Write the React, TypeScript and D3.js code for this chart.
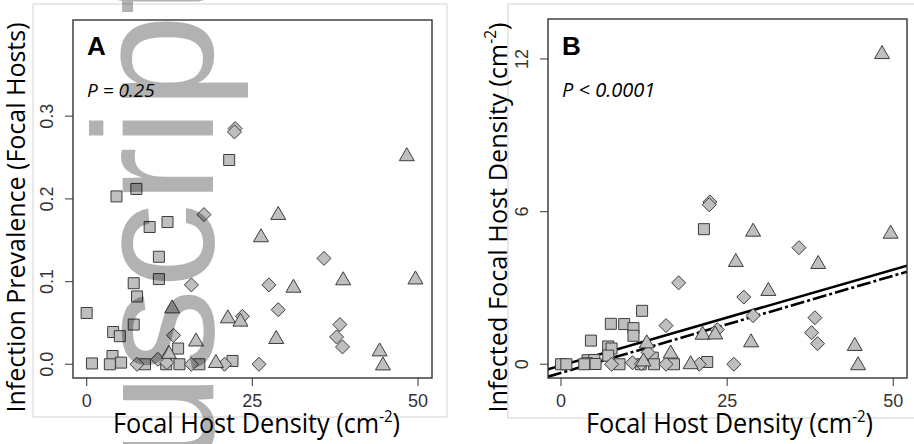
import * as d3 from "d3";
import { useEffect, useRef } from "react";

// focal host density (cm^-2) per plot, split by marker shape
const squareDensity = [0, 0.8, 4.5, 7.5, 4.0, 5.0, 3.9, 3.5, 5.2, 7.1, 7.6, 7.1, 9.5, 12.2, 10.9, 10.9, 13.8, 14.0, 8.8, 12.0, 17.0, 21.5, 22.0];
const squarePrevalence = [0.062, 0.001, 0.203, 0.212, 0.039, 0.034, 0.01, 0, 0.002, 0.098, 0.082, 0.048, 0.166, 0.172, 0.13, 0.103, 0.019, 0, 0, 0, 0, 0.247, 0.004];
const squareInfected = [0, 0, 0.93, 1.59, 0.16, 0.17, 0.04, 0, 0.01, 0.7, 0.62, 0.34, 1.58, 2.1, 1.42, 1.12, 0.26, 0, 0, 0, 0, 5.31, 0.09];

const diamondDensity = [22.4, 22.3, 17.7, 15.8, 27.5, 28.9, 23.5, 35.8, 38.2, 37.7, 38.6, 13.1, 10.75, 12.1, 7.6, 15.8, 20.8, 26.0];
const diamondPrevalence = [0.285, 0.281, 0.181, 0.096, 0.096, 0.066, 0.058, 0.128, 0.048, 0.033, 0.021, 0.035, 0.006, 0.002, 0, 0, 0, 0];
const diamondInfected = [6.38, 6.27, 3.2, 1.52, 2.64, 1.91, 1.36, 4.58, 1.83, 1.24, 0.81, 0.46, 0.06, 0.02, 0, 0, 0, 0];

const triangleDensity = [12.9, 16.5, 12.4, 19.5, 21.3, 23.2, 28.9, 26.3, 31.2, 38.7, 28.6, 48.3, 49.6, 44.2, 44.7];
const trianglePrevalence = [0.07, 0.03, 0.015, 0.004, 0.058, 0.054, 0.183, 0.156, 0.095, 0.104, 0.033, 0.254, 0.105, 0.018, 0.001];
const triangleInfected = [0.9, 0.5, 0.19, 0.08, 1.24, 1.25, 5.29, 4.1, 2.96, 4.02, 0.94, 12.27, 5.21, 0.8, 0.04];

const xTicks = [0, 25, 50];
const prevTicks = [0, 0.1, 0.2, 0.3];
const infTicks = [0, 6, 12];

// fitted lines for panel B: [intercept, slope]
const fitSolid = [-0.05, 0.0754];
const fitDashed = [-0.34, 0.0764];

const shapes = {
  square: "M-5.5,-5.5H5.5V5.5H-5.5Z",
  diamond: "M0,-7L7,0L0,7L-7,0Z",
  triangle: "M0,-6.5L7.5,6.5L-7.5,6.5Z",
};

function App() {
  const ref = useRef(null);

  useEffect(() => {
    const svg = d3.select(ref.current);
    svg.selectAll("*").remove();

    const panels = [
      {
        frame: [33, 4, 414, 413],
        box: [73, 20, 432, 378],
        xDomain: [-2.06, 52.1],
        yDomain: [-0.0166, 0.4163],
        yTicks: prevTicks,
        yFmt: d3.format(".1f"),
        ys: [squarePrevalence, diamondPrevalence, trianglePrevalence],
        letter: "A",
        ptext: "P = 0.25",
        pSize: 19,
        yTitle: "Infection Prevalence (Focal Hosts)",
        yTitleX: 25,
        xTitleX: 256.5,
        fits: false,
      },
      {
        frame: [508, 4, 420, 414],
        box: [548, 19, 907, 378],
        xDomain: [-1.96, 52.06],
        yDomain: [-0.54, 13.57],
        yTicks: infTicks,
        yFmt: d3.format("d"),
        ys: [squareInfected, diamondInfected, triangleInfected],
        letter: "B",
        ptext: "P < 0.0001",
        pSize: 20,
        yTitle: "Infected Focal Host Density (cm",
        yTitleX: 507,
        xTitleX: 729.5,
        fits: true,
      },
    ];

    panels.forEach((p, pi) => {
      const [bx0, by0, bx1, by1] = p.box;
      const x = d3.scaleLinear().domain(p.xDomain).range([bx0, bx1]);
      const y = d3.scaleLinear().domain(p.yDomain).range([by1, by0]);
      const g = svg.append("g");

      g.append("rect")
        .attr("x", p.frame[0])
        .attr("y", p.frame[1])
        .attr("width", p.frame[2])
        .attr("height", p.frame[3])
        .attr("fill", "none")
        .attr("stroke", "#d2d2d2")
        .attr("stroke-width", 1);

      // x ticks
      g.selectAll(".xt")
        .data(xTicks)
        .join("line")
        .attr("x1", (d) => x(d))
        .attr("x2", (d) => x(d))
        .attr("y1", by1)
        .attr("y2", by1 + 8)
        .attr("stroke", "#555")
        .attr("stroke-width", 1.2);
      g.selectAll(".xl")
        .data(xTicks)
        .join("text")
        .attr("x", (d) => x(d))
        .attr("y", by1 + 29)
        .attr("text-anchor", "middle")
        .style("font-family", "'Liberation Sans', Arial, sans-serif")
        .style("font-size", "18px")
        .style("fill", "#333")
        .text((d) => d);

      // y ticks
      g.selectAll(".yt")
        .data(p.yTicks)
        .join("line")
        .attr("x1", bx0 - 8)
        .attr("x2", bx0)
        .attr("y1", (d) => y(d))
        .attr("y2", (d) => y(d))
        .attr("stroke", "#555")
        .attr("stroke-width", 1.2);
      g.selectAll(".yl")
        .data(p.yTicks)
        .join("text")
        .attr("transform", (d) => `translate(${bx0 - 20},${y(d)}) rotate(-90)`)
        .attr("text-anchor", "middle")
        .style("font-family", "'Liberation Sans', Arial, sans-serif")
        .style("font-size", "18px")
        .style("fill", "#333")
        .text((d) => p.yFmt(d));

      // fitted lines, clipped to the box
      if (p.fits) {
        const clipId = `clip${pi}`;
        svg
          .append("clipPath")
          .attr("id", clipId)
          .append("rect")
          .attr("x", bx0)
          .attr("y", by0)
          .attr("width", bx1 - bx0)
          .attr("height", by1 - by0);
        const lines = [
          { c: fitSolid, dash: null },
          { c: fitDashed, dash: "14,3,3,3" },
        ];
        lines.forEach((l) => {
          g.append("line")
            .attr("clip-path", `url(#${clipId})`)
            .attr("x1", x(p.xDomain[0]))
            .attr("y1", y(l.c[0] + l.c[1] * p.xDomain[0]))
            .attr("x2", x(p.xDomain[1]))
            .attr("y2", y(l.c[0] + l.c[1] * p.xDomain[1]))
            .attr("stroke", "#000")
            .attr("stroke-width", 2.6)
            .attr("stroke-dasharray", l.dash);
        });
      }

      // points
      const groups = [
        { shape: shapes.square, xs: squareDensity, ys: p.ys[0] },
        { shape: shapes.diamond, xs: diamondDensity, ys: p.ys[1] },
        { shape: shapes.triangle, xs: triangleDensity, ys: p.ys[2] },
      ];
      groups.forEach((grp) => {
        g.append("g")
          .selectAll("path")
          .data(grp.xs.map((v, i) => [v, grp.ys[i]]))
          .join("path")
          .attr("d", grp.shape)
          .attr("transform", (d) => `translate(${x(d[0])},${y(d[1])})`)
          .attr("fill", "#bfbfbf")
          .attr("stroke", "#3c3c3c")
          .attr("stroke-width", 1);
      });

      // box
      g.append("rect")
        .attr("x", bx0)
        .attr("y", by0)
        .attr("width", bx1 - bx0)
        .attr("height", by1 - by0)
        .attr("fill", "none")
        .attr("stroke", "#333")
        .attr("stroke-width", 1.4);

      g.append("text")
        .attr("x", bx0 + 14)
        .attr("y", 55)
        .style("font-family", "'Liberation Sans', Arial, sans-serif")
        .style("font-weight", "bold")
        .style("font-size", "26px")
        .text(p.letter);

      g.append("text")
        .attr("x", bx0 + 14)
        .attr("y", 97)
        .style("font-family", "'Open Sans', sans-serif")
        .style("font-style", "italic")
        .style("font-size", `${p.pSize}px`)
        .text(p.ptext);

      // axis titles
      const xt = g
        .append("text")
        .attr("x", p.xTitleX)
        .attr("y", 433)
        .attr("text-anchor", "middle")
        .attr("textLength", 287)
        .attr("lengthAdjust", "spacingAndGlyphs")
        .style("font-family", "'Open Sans', sans-serif")
        .style("font-size", "27px");
      xt.append("tspan").text("Focal Host Density (cm");
      xt.append("tspan").attr("dy", -11).style("font-size", "16px").text("-2");
      xt.append("tspan").attr("dy", 11).text(")");

      const yt = g
        .append("text")
        .attr("transform", `translate(${p.yTitleX},217.5) rotate(-90)`)
        .attr("text-anchor", "middle")
        .attr("textLength", 390)
        .attr("lengthAdjust", "spacingAndGlyphs")
        .style("font-family", "'Open Sans', sans-serif")
        .style("font-size", "26px");
      if (p.fits) {
        yt.append("tspan").text(p.yTitle);
        yt.append("tspan").attr("dy", -11).style("font-size", "16px").text("-2");
        yt.append("tspan").attr("dy", 11).text(")");
      } else {
        yt.text(p.yTitle);
      }
    });

    // watermark
    svg
      .append("text")
      .attr("transform", "translate(213,468) rotate(-90)")
      .style("font-family", "'Liberation Sans', Arial, sans-serif")
      .style("font-size", "170px")
      .style("fill", "#000")
      .style("fill-opacity", 0.3)
      .text("uscript");
  }, []);

  return (
    <svg
      ref={ref}
      width={914}
      height={444}
      style={{ position: "absolute", left: 0, top: 0, background: "#fff" }}
    />
  );
}

export default App;
